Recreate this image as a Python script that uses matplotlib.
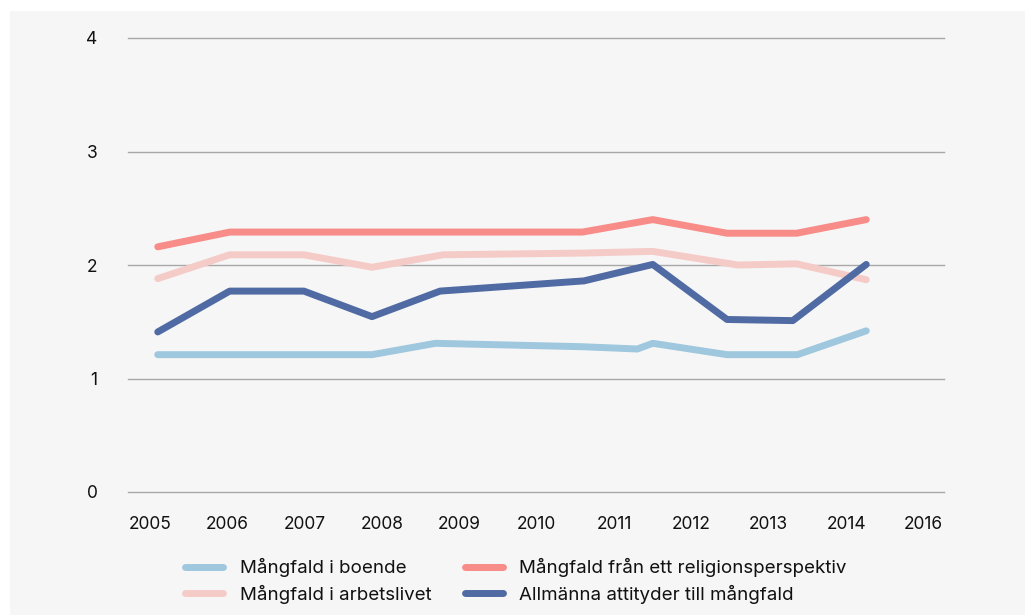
import matplotlib
matplotlib.use("Agg")
import matplotlib.pyplot as plt
from matplotlib.patches import Rectangle

# x positions expressed in tick-index units (0 = "2005" tick, 10 = "2016" tick)
tick_labels = ["2005", "2006", "2007", "2008", "2009", "2010", "2011", "2012", "2013", "2014", "2016"]

boende_x = [0.10, 1.03, 1.99, 2.87, 3.69, 5.59, 6.30, 6.50, 7.46, 8.37, 9.26]
boende_y = [1.21, 1.21, 1.21, 1.21, 1.31, 1.28, 1.26, 1.31, 1.21, 1.21, 1.42]

arbets_x = [0.10, 1.03, 1.99, 2.87, 3.79, 5.59, 6.50, 7.60, 8.36, 9.26]
arbets_y = [1.88, 2.09, 2.09, 1.98, 2.09, 2.105, 2.12, 2.00, 2.01, 1.87]

relig_x = [0.10, 1.03, 5.59, 6.50, 7.46, 8.36, 9.26]
relig_y = [2.16, 2.29, 2.29, 2.40, 2.28, 2.28, 2.40]

allm_x = [0.10, 1.03, 1.99, 2.87, 3.75, 5.61, 6.50, 7.46, 8.31, 9.26]
allm_y = [1.41, 1.77, 1.77, 1.545, 1.77, 1.86, 2.005, 1.52, 1.51, 2.005]

series = [
    ("Mångfald i boende", boende_x, boende_y, "#9fc7de"),
    ("Mångfald i arbetslivet", arbets_x, arbets_y, "#f5cbc8"),
    ("Mångfald från ett religionsperspektiv", relig_x, relig_y, "#f78c88"),
    ("Allmänna attityder till mångfald", allm_x, allm_y, "#506aa3"),
]

plt.rcParams['font.family'] = ['Inter', 'DejaVu Sans']

W, H = 1025, 615
fig = plt.figure(figsize=(W / 100, H / 100), dpi=100)
fig.patch.set_facecolor("white")
fig.patches.append(Rectangle((10 / W, 0), 1 - 10 / W, 1 - 11 / H, transform=fig.transFigure,
                             facecolor="#f6f6f6", edgecolor="none", zorder=-10))

ax = fig.add_axes([128 / W, (H - 492) / H, (944 - 128) / W, (492 - 38) / H])
ax.set_facecolor("none")

lines = {}
for name, xs, ys, c in series:
    ln, = ax.plot(xs, ys, color=c, lw=5.0, solid_capstyle="round", solid_joinstyle="round", label=name)
    lines[name] = ln

# pixel mapping: px = 150 + 77.35*idx
ax.set_xlim((128 - 150) / 77.35, (944 - 150) / 77.35)
ax.set_ylim(0, 4)
ax.set_xticks(range(len(tick_labels)))
ax.set_xticklabels(tick_labels)
ax.set_yticks([0, 1, 2, 3, 4])
ax.set_yticklabels(["0", "1", "2", "3", "4"])
ax.tick_params(axis="both", length=0, labelsize=12.5, colors="#111111")
ax.tick_params(axis="x", pad=17)
ax.tick_params(axis="y", pad=22)
for lab in ax.get_yticklabels():
    lab.set_horizontalalignment("right")
ax.grid(axis="y", color="#a8a8a8", lw=1)
for gl in ax.get_ygridlines():
    gl.set_clip_on(False)
ax.set_axisbelow(True)
for s in ax.spines.values():
    s.set_visible(False)

order = ["Mångfald i boende", "Mångfald i arbetslivet",
         "Mångfald från ett religionsperspektiv", "Allmänna attityder till mångfald"]
leg = fig.legend([lines[n] for n in order], order, loc="center",
                 bbox_to_anchor=(516 / W, 1 - 581 / H), ncol=2, frameon=False,
                 fontsize=13.5, handlelength=2.0, handletextpad=0.9, columnspacing=1.8,
                 labelspacing=0.4)
for t in leg.get_texts():
    t.set_color("#111111")

fig.savefig("out.png", dpi=100, facecolor=fig.get_facecolor())
